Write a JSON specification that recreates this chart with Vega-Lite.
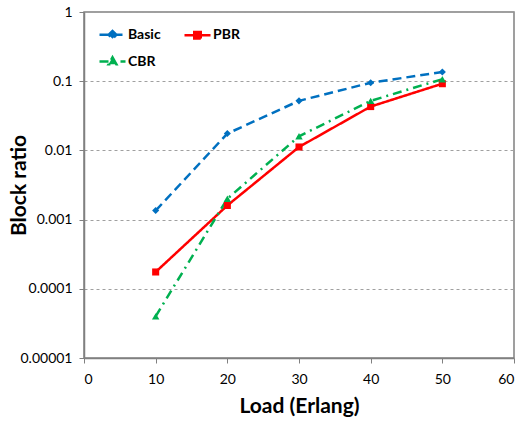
{
  "$schema": "https://vega.github.io/schema/vega-lite/v6.json",
  "autosize": "none",
  "width": 430,
  "height": 346,
  "padding": {"left": 84, "top": 12, "right": 8, "bottom": 65},
  "background": "white",
  "config": {
    "font": "Lato",
    "view": {"stroke": "#808080", "strokeWidth": 1.5}
  },
  "data": {
    "values": [
      {"load": 10, "ratio": 0.00135, "scheme": "Basic"},
      {"load": 20, "ratio": 0.0175, "scheme": "Basic"},
      {"load": 30, "ratio": 0.052, "scheme": "Basic"},
      {"load": 40, "ratio": 0.095, "scheme": "Basic"},
      {"load": 50, "ratio": 0.136, "scheme": "Basic"},
      {"load": 10, "ratio": 0.000175, "scheme": "PBR"},
      {"load": 20, "ratio": 0.0016, "scheme": "PBR"},
      {"load": 30, "ratio": 0.0112, "scheme": "PBR"},
      {"load": 40, "ratio": 0.043, "scheme": "PBR"},
      {"load": 50, "ratio": 0.092, "scheme": "PBR"},
      {"load": 10, "ratio": 0.00004, "scheme": "CBR"},
      {"load": 20, "ratio": 0.002, "scheme": "CBR"},
      {"load": 30, "ratio": 0.016, "scheme": "CBR"},
      {"load": 40, "ratio": 0.052, "scheme": "CBR"},
      {"load": 50, "ratio": 0.107, "scheme": "CBR"}
    ]
  },
  "encoding": {
    "x": {
      "field": "load", "type": "quantitative",
      "scale": {"domain": [0, 60], "nice": false},
      "axis": {
        "title": "Load (Erlang)", "values": [0, 10, 20, 30, 40, 50, 60],
        "grid": false, "domainColor": "#808080", "domainWidth": 1.5,
        "tickColor": "#808080", "tickSize": 5, "labelFontSize": 14, "labelColor": "#000",
        "labelPadding": 9, "titleFontSize": 21, "titleFontWeight": "bold",
        "titleColor": "#000", "titlePadding": 9
      }
    },
    "y": {
      "field": "ratio", "type": "quantitative",
      "scale": {"type": "log", "domain": [0.00001, 1], "nice": false},
      "axis": {
        "title": "Block ratio", "values": [1, 0.1, 0.01, 0.001, 0.0001, 0.00001],
        "format": ".5~f",
        "grid": true, "gridDash": [3, 3], "gridColor": "#a0a0a0", "gridWidth": 1,
        "domainColor": "#808080", "domainWidth": 1.5,
        "tickColor": "#808080", "tickSize": 5, "labelFontSize": 14, "labelColor": "#000",
        "labelPadding": 7, "titleFontSize": 21, "titleFontWeight": "bold",
        "titleColor": "#000", "titleX": -65, "titleY": 173, "titleAngle": -90,
        "titleAlign": "center", "titleBaseline": "middle"
      }
    },
    "color": {
      "field": "scheme", "type": "nominal",
      "scale": {"domain": ["Basic", "PBR", "CBR"], "range": ["#0070C0", "#FF0000", "#00B050"]},
      "legend": {
        "title": null, "orient": "none", "legendX": 14, "legendY": 8,
        "columns": 2, "direction": "horizontal", "columnPadding": 18, "rowPadding": 3,
        "labelFontSize": 14, "labelFontWeight": "bold", "labelColor": "#000",
        "symbolSize": 676, "symbolStrokeWidth": 2.5, "labelOffset": 1
      }
    }
  },
  "layer": [
    {
      "transform": [{"filter": "datum.load < 0"}],
      "mark": {"type": "point", "filled": true, "opacity": 1, "strokeWidth": 2.5},
      "encoding": {
        "stroke": {
          "field": "scheme", "type": "nominal",
          "scale": {"domain": ["Basic", "PBR", "CBR"], "range": ["#0070C0", "#FF0000", "#00B050"]},
          "legend": {
            "title": null, "orient": "none", "legendX": 14, "legendY": 8,
            "columns": 2, "direction": "horizontal", "columnPadding": 18, "rowPadding": 3,
            "labelFontSize": 14, "labelFontWeight": "bold", "labelColor": "#000",
            "symbolSize": 676, "symbolStrokeWidth": 2.5, "labelOffset": 1
          }
        },
        "shape": {
          "field": "scheme", "type": "nominal",
          "scale": {"domain": ["Basic", "PBR", "CBR"], "range": ["M-1,0H1M0,-0.3L0.3,0L0,0.3L-0.3,0Z", "M-1,0H1M-0.25,-0.25H0.25V0.25H-0.25Z", "M-1,0H1M0,-0.32L0.3,0.22H-0.3Z"]},
          "legend": {
            "title": null, "orient": "none", "legendX": 14, "legendY": 8,
            "columns": 2, "direction": "horizontal", "columnPadding": 18, "rowPadding": 3,
            "labelFontSize": 14, "labelFontWeight": "bold", "labelColor": "#000",
            "symbolSize": 676, "symbolStrokeWidth": 2.5, "labelOffset": 1
          }
        }
      }
    },
    {
      "mark": {"type": "line", "strokeWidth": 2.5},
      "encoding": {
        "strokeDash": {
          "field": "scheme", "type": "nominal",
          "scale": {"domain": ["Basic", "PBR", "CBR"], "range": [[9, 5], [1, 0], [9, 5, 2, 5]]},
          "legend": null
        }
      }
    },
    {
      "transform": [{"filter": "datum.scheme === 'Basic'"}],
      "mark": {"type": "point", "filled": true, "opacity": 1, "size": 50, "shape": "diamond"}
    },
    {
      "transform": [{"filter": "datum.scheme === 'PBR'"}],
      "mark": {"type": "point", "filled": true, "opacity": 1, "size": 50, "shape": "square"}
    },
    {
      "transform": [{"filter": "datum.scheme === 'CBR'"}],
      "mark": {"type": "point", "filled": true, "opacity": 1, "size": 55, "shape": "triangle-up"}
    }
  ]
}
